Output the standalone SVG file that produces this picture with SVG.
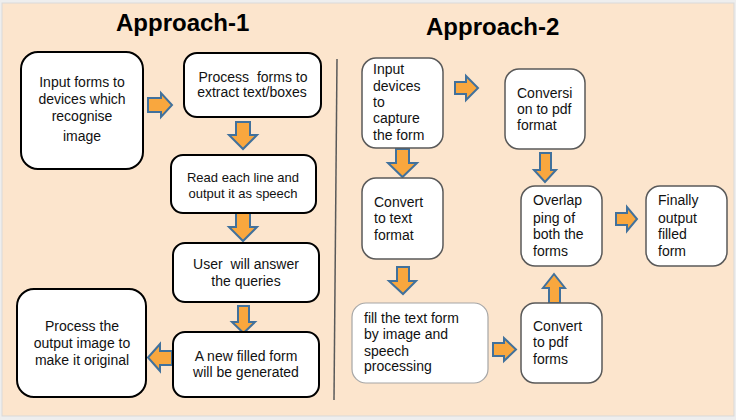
<svg xmlns="http://www.w3.org/2000/svg" width="736" height="420" viewBox="0 0 736 420">
<style>
.t{font-family:"Liberation Sans",Arial,sans-serif;fill:#111;white-space:pre;}
.h{font-family:"Liberation Sans",Arial,sans-serif;font-weight:bold;font-size:24px;fill:#000;}
.n1{fill:#fff;stroke:#000;stroke-width:2;}
.n2{fill:#fff;stroke:#595959;stroke-width:1.5;}
.n3{fill:#fff;stroke:#a6a6a6;stroke-width:1.2;}
.ar{fill:#F9A73E;stroke:#41719C;stroke-width:2;stroke-linejoin:miter;}
</style>
<rect x="0" y="0" width="736" height="420" fill="#eeeeee"/>
<rect x="2" y="3" width="732" height="413" fill="#FCE5CD" stroke="#d9d9d9" stroke-width="1"/>
<text class="h" x="116" y="31">Approach-1</text>
<text class="h" x="426" y="35">Approach-2</text>
<line x1="337" y1="59" x2="334" y2="400" stroke="#595959" stroke-width="1.5"/>

<g id="connectors">
<polygon class="ar" points="148,98 161,98 161,93 172,105 161,117 161,112 148,112"/>
<polygon class="ar" points="236,122 250,122 250,135 257,135 243,149 229,135 236,135"/>
<polygon class="ar" points="236,213 250,213 250,227 257,227 243,241 229,227 236,227"/>
<polygon class="ar" points="238,306 249,306 249,322 255,322 243.5,333 232,322 238,322"/>
<polygon class="ar" points="172,351 160,351 160,344 148,357.5 160,371 160,365 172,365"/>
<polygon class="ar" points="455,82 466,82 466,76 478,88 466,100 466,94 455,94"/>
<polygon class="ar" points="396,149 409,149 409,163 417,163 402.5,177 388,163 396,163"/>
<polygon class="ar" points="540,153 551,153 551,170 556,170 545,182 534,170 540,170"/>
<polygon class="ar" points="616,213 627,213 627,207 637,219 627,231 627,225 616,225"/>
<polygon class="ar" points="397,267 409,267 409,281 416,281 403,294 389,281 397,281"/>
<polygon class="ar" points="493,343 504,343 504,338 516,349.5 504,361 504,356 493,356"/>
<polygon class="ar" points="549,303 560,303 560,288 565,288 554,274 543,288 549,288"/>
</g>

<g id="node-input-forms">
<rect class="n1" x="21" y="52" width="122" height="117" rx="17"/>
<text class="t" font-size="14" text-anchor="middle"><tspan x="82" y="87">Input forms to</tspan><tspan x="82" y="104">devices which</tspan><tspan x="82" y="121">recognise</tspan><tspan x="82" y="141">image</tspan></text>
</g>
<g id="node-process-forms">
<rect class="n1" x="184" y="53" width="137" height="64" rx="13"/>
<text class="t" font-size="14" text-anchor="middle"><tspan x="253" y="82">Process  forms to</tspan><tspan x="252" y="97">extract text/boxes</tspan></text>
</g>
<g id="node-read-line">
<rect class="n1" x="171" y="155" width="145" height="58" rx="12"/>
<text class="t" font-size="13" text-anchor="middle"><tspan x="243" y="182">Read each line and</tspan><tspan x="243" y="198">output it as speech</tspan></text>
</g>
<g id="node-user-answer">
<rect class="n1" x="173" y="243" width="146" height="59" rx="12"/>
<text class="t" font-size="14" text-anchor="middle"><tspan x="246" y="269">User  will answer</tspan><tspan x="246" y="286">the queries</tspan></text>
</g>
<g id="node-new-form">
<rect class="n1" x="173" y="332" width="146" height="65" rx="12"/>
<text class="t" font-size="14" text-anchor="middle"><tspan x="246" y="361">A new filled form</tspan><tspan x="246" y="377">will be generated</tspan></text>
</g>
<g id="node-process-output">
<rect class="n1" x="17" y="289" width="129" height="108" rx="17"/>
<text class="t" font-size="14" text-anchor="middle"><tspan x="82" y="331">Process the</tspan><tspan x="82" y="348">output image to</tspan><tspan x="82" y="365">make it original</tspan></text>
</g>

<g id="node-input-devices">
<rect class="n2" x="362" y="58" width="81" height="90" rx="14"/>
<text class="t" font-size="14"><tspan x="373" y="74">Input</tspan><tspan x="373" y="91">devices</tspan><tspan x="373" y="107">to</tspan><tspan x="373" y="123">capture</tspan><tspan x="373" y="140">the form</tspan></text>
</g>
<g id="node-conversion-pdf">
<rect class="n2" x="505" y="69" width="80" height="80" rx="14"/>
<text class="t" font-size="14"><tspan x="517" y="98">Conversi</tspan><tspan x="517" y="114">on to pdf</tspan><tspan x="517" y="130">format</tspan></text>
</g>
<g id="node-convert-text">
<rect class="n2" x="362" y="178" width="81" height="81" rx="14"/>
<text class="t" font-size="14"><tspan x="374" y="207">Convert</tspan><tspan x="374" y="223">to text</tspan><tspan x="374" y="240">format</tspan></text>
</g>
<g id="node-overlapping">
<rect class="n2" x="521" y="186" width="81" height="80" rx="14"/>
<text class="t" font-size="14"><tspan x="533" y="205">Overlap</tspan><tspan x="533" y="223">ping of</tspan><tspan x="533" y="239">both the</tspan><tspan x="533" y="256">forms</tspan></text>
</g>
<g id="node-final-output">
<rect class="n2" x="646" y="186" width="81" height="80" rx="14"/>
<text class="t" font-size="14"><tspan x="658" y="205">Finally</tspan><tspan x="658" y="223">output</tspan><tspan x="658" y="239">filled</tspan><tspan x="658" y="256">form</tspan></text>
</g>
<g id="node-fill-text">
<rect class="n3" x="352" y="303" width="136" height="80" rx="14"/>
<text class="t" font-size="14"><tspan x="364" y="323">fill the text form</tspan><tspan x="364" y="339">by image and</tspan><tspan x="364" y="356">speech</tspan><tspan x="364" y="371">processing</tspan></text>
</g>
<g id="node-convert-pdf">
<rect class="n2" x="521" y="303" width="81" height="80" rx="14"/>
<text class="t" font-size="14"><tspan x="533" y="331">Convert</tspan><tspan x="533" y="347">to pdf</tspan><tspan x="533" y="364">forms</tspan></text>
</g>
</svg>
